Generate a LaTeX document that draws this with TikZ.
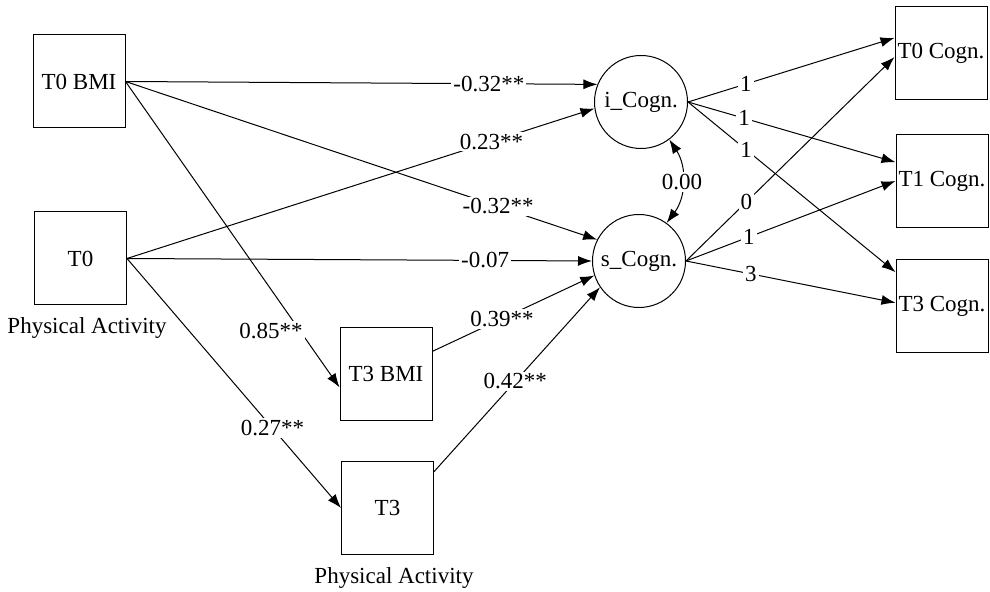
\documentclass[tikz,border=0pt]{standalone}
\usepackage{fontspec}
\setmainfont{Liberation Serif}
\usetikzlibrary{arrows.meta}

\begin{document}
\begin{tikzpicture}[x = 0.5pt, y = -0.5pt, font = \fontsize{11.5}{13}\selectfont,
	obs/.style = {draw, line width = 0.5pt, minimum width = 46pt, minimum height = 46.5pt, inner sep = 0pt},
	lat/.style = {draw, circle, line width = 0.5pt, minimum size = 46.5pt, inner sep = 0pt},
	lbl/.style = {fill = white, inner sep = 1pt},
	every edge/.style = {draw, line width = 0.5pt, -{Latex[length = 7pt, width = 5pt]}}]
			\useasboundingbox (0,0) rectangle (990,592);
			\node (t0bmi) at (79,81.5) [obs] {T0 BMI};
			\node (t0pa) at (80.5,258.5) [obs] {T0};
			\node (t3bmi) at (386,374) [obs] {T3 BMI};
			\node (t3pa) at (387.5,508) [obs] {T3};
			\node (pa0) at (87,328) {Physical Activity};
			\node (pa3) at (394,578) {Physical Activity};
			\node (icog) at (641,102) [lat] {i\_Cogn.};
			\node (scog) at (639,261) [lat] {s\_Cogn.};
			\node (t0cog) at (941,53) [obs] {T0 Cogn.};
			\node (t1cog) at (942,181) [obs] {T1 Cogn.};
			\node (t3cog) at (942,306) [obs] {T3 Cogn.};
			\draw (t0bmi.east) edge node[lbl, pos = 0.77] {-0.32**} (icog.158);
			\draw (t0pa.east) edge node[lbl, pos = 0.78] {0.23**} (icog.188);
			\draw (t0bmi.east) edge node[lbl, pos = 0.79] {-0.32**} (scog.153);
			\draw (t0pa.east) edge node[lbl, pos = 0.77] {-0.07} (scog.180);
			\draw (t0bmi.east) edge node[lbl, pos = 0.8, xshift = -12.8pt, yshift = -2.5pt] {0.85**} (t3bmi.196);
			\draw (t0pa.east) edge node[lbl, pos = 0.68] {0.27**} (t3pa.west);
			\draw (t3bmi.26) edge node[lbl, pos = 0.43] {0.39**} (scog.198);
			\draw (t3pa.38) edge node[lbl, pos = 0.49] {0.42**} (scog.214);
			\draw (scog.54) edge[{Latex[length = 7pt, width = 5pt]}-{Latex[length = 7pt, width = 5pt]}, bend right = 35] node[lbl] {0.00} (icog.307);
			\draw (icog.east) edge node[lbl, pos = 0.28] {1} (t0cog.162);
			\draw (icog.east) edge node[lbl, pos = 0.27] {1} (t1cog.158);
			\draw (icog.east) edge node[lbl, pos = 0.28] {1} (t3cog.144);
			\draw (scog.east) edge node[lbl, pos = 0.29] {0} (t0cog.185);
			\draw (scog.east) edge node[lbl, pos = 0.3] {1} (t1cog.180);
			\draw (scog.east) edge node[lbl, pos = 0.31] {3} (t3cog.176);
			\end{tikzpicture}
\end{document}
